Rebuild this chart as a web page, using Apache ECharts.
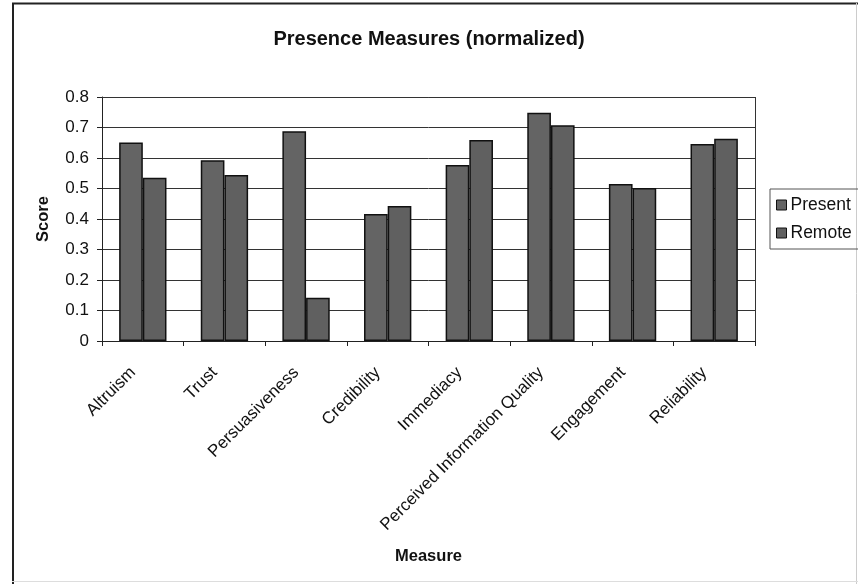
<!DOCTYPE html>
<html>
<head>
<meta charset="utf-8">
<script src="https://cdn.jsdelivr.net/npm/echarts@6/dist/echarts.min.js"></script>
<style>
  html, body { margin: 0; padding: 0; background: #fff; }
  #chart { width: 858px; height: 584px; }
</style>
</head>
<body>
<div id="chart"></div>
<script>
// Presence measures, normalized scores per condition
const categories = ['Altruism', 'Trust', 'Persuasiveness', 'Credibility', 'Immediacy',
  'Perceived Information Quality', 'Engagement', 'Reliability'];
const presentValues = [0.651, 0.593, 0.688, 0.416, 0.577, 0.748, 0.515, 0.646];
const remoteValues  = [0.535, 0.544, 0.142, 0.443, 0.659, 0.707, 0.502, 0.663];
const yTicks = [0, 0.1, 0.2, 0.3, 0.4, 0.5, 0.6, 0.7, 0.8];

const chart = echarts.init(document.getElementById('chart'), null, { renderer: 'canvas' });
const font = 'Arial, "Liberation Sans", Helvetica, sans-serif';
const barStyle = (c) => ({ color: c, borderColor: '#111', borderWidth: 1.5 });

chart.setOption({
  backgroundColor: '#fff',
  animation: false,
  title: {
    text: 'Presence Measures (normalized)',
    left: 'center', top: 24,
    textStyle: { fontFamily: font, fontSize: 20, fontWeight: 'bold', color: '#111' }
  },
  legend: {
    orient: 'vertical',
    left: 770, top: 189,
    itemWidth: 10, itemHeight: 10, itemGap: 10,
    padding: [7, 8, 7, 6],
    borderColor: '#555', borderWidth: 1,
    textStyle: { fontFamily: font, fontSize: 17.5, color: '#111', padding: [0, 0, 0, -1] },
    data: [
      { name: 'Present', icon: 'rect', itemStyle: { borderColor: '#111', borderWidth: 1 } },
      { name: 'Remote', icon: 'rect', itemStyle: { borderColor: '#111', borderWidth: 1 } }
    ]
  },
  grid: { left: 102, right: 103, top: 97, bottom: 243, containLabel: false },
  xAxis: {
    type: 'category',
    data: categories,
    name: 'Measure',
    nameLocation: 'middle',
    nameGap: 207,
    nameTextStyle: { fontFamily: font, fontSize: 16.5, fontWeight: 'bold', color: '#111' },
    axisLine: { lineStyle: { color: '#222', width: 1 } },
    axisTick: { show: true, length: 5, lineStyle: { color: '#222' } },
    axisLabel: {
      rotate: 45, margin: 19, padding: [0, 14, 0, 0],
      fontFamily: font, fontSize: 17, color: '#111'
    },
    splitLine: { show: false }
  },
  yAxis: {
    type: 'value',
    min: 0, max: 0.8, interval: 0.1,
    name: 'Score',
    nameLocation: 'middle',
    nameGap: 50,
    nameRotate: 90,
    nameTextStyle: { fontFamily: font, fontSize: 16.5, fontWeight: 'bold', color: '#111' },
    axisLine: { show: true, lineStyle: { color: '#222', width: 1 } },
    axisTick: { show: true, inside: false, length: 5, lineStyle: { color: '#222' } },
    axisLabel: {
      margin: 13, fontFamily: font, fontSize: 17, color: '#111',
      formatter: (v) => {
        const t = yTicks.find((x) => Math.abs(x - v) < 1e-9);
        return t === undefined ? '' : String(t);
      }
    },
    splitLine: { show: true, lineStyle: { color: '#333', width: 1 } }
  },
  series: [
    {
      name: 'Present', type: 'bar', data: presentValues,
      barGap: '0%', barCategoryGap: '42%',
      itemStyle: barStyle('#646464')
    },
    {
      name: 'Remote', type: 'bar', data: remoteValues,
      barGap: '0%', barCategoryGap: '42%',
      itemStyle: barStyle('#606060')
    }
  ],
  graphic: [
    // plot area frame (top and right edges)
    { type: 'line', shape: { x1: 102, y1: 97.5, x2: 755, y2: 97.5 }, style: { stroke: '#333', lineWidth: 1 }, z: 5 },
    { type: 'line', shape: { x1: 755.5, y1: 97, x2: 755.5, y2: 341 }, style: { stroke: '#333', lineWidth: 1 }, z: 5 },
    // outer chart border
    { type: 'line', shape: { x1: 12, y1: 3.5, x2: 858, y2: 3.5 }, style: { stroke: '#222', lineWidth: 2 } },
    { type: 'line', shape: { x1: 13, y1: 3, x2: 13, y2: 584 }, style: { stroke: '#222', lineWidth: 2 } },
    { type: 'line', shape: { x1: 856.5, y1: 3, x2: 856.5, y2: 584 }, style: { stroke: '#ccc', lineWidth: 1 } },
    { type: 'line', shape: { x1: 12, y1: 581.5, x2: 858, y2: 581.5 }, style: { stroke: '#ddd', lineWidth: 1 } }
  ]
});
</script>
</body>
</html>
